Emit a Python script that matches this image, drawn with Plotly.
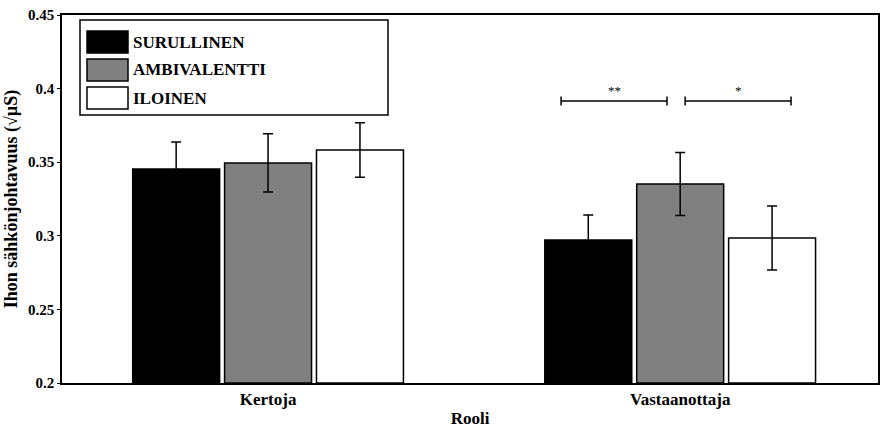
import plotly.graph_objects as go

groups = ["Kertoja", "Vastaanottaja"]
series = ["SURULLINEN", "AMBIVALENTTI", "ILOINEN"]
colors = ["#000000", "#808080", "#ffffff"]
values = [
    [0.3454, 0.2971],
    [0.3495, 0.3352],
    [0.3583, 0.2985],
]
errors = [
    [0.0183, 0.0170],
    [0.0198, 0.0214],
    [0.0185, 0.0217],
]
# significance brackets: (x0, x1, y, label) in data units
brackets = [
    (1.711, 1.968, 0.3916, "**"),
    (2.012, 2.269, 0.3916, "*"),
]
yticks = [0.2, 0.25, 0.3, 0.35, 0.4, 0.45]

offsets = [-0.223, 0.0, 0.223]
bar_w = 0.211
font = "Liberation Serif"

fig = go.Figure()
for i, name in enumerate(series):
    fig.add_trace(go.Bar(
        x=[g + 1 + offsets[i] for g in range(len(groups))],
        y=[v - 0.2 for v in values[i]],
        base=0.2,
        width=bar_w,
        name=name,
        marker=dict(color=colors[i], line=dict(color="#000000", width=1.5)),
        error_y=dict(type="data", array=errors[i], color="#000000", thickness=1.5, width=5),
        showlegend=False,
    ))

shapes = []
annotations = []
for x0, x1, y, lab in brackets:
    shapes.append(dict(type="line", xref="x", yref="y", x0=x0, x1=x1, y0=y, y1=y,
                       line=dict(color="#000000", width=1.5)))
    for xx in (x0, x1):
        shapes.append(dict(type="line", xref="x", yref="y", x0=xx, x1=xx,
                           y0=y - 0.003, y1=y + 0.003, line=dict(color="#000000", width=1.5)))
    annotations.append(dict(x=(x0 + x1) / 2, y=y, xref="x", yref="y", text=lab,
                            showarrow=False, yanchor="bottom", yshift=1,
                            font=dict(family=font, size=13, color="#000000")))

# manual legend (pixel geometry converted to paper coords)
L, T, W, H = 62, 15, 816, 368
def px(x): return (x - L) / W
def py(y): return 1 - (y - T) / H
shapes.append(dict(type="rect", xref="paper", yref="paper", x0=px(80), x1=px(388),
                   y0=py(115), y1=py(20), line=dict(color="#000000", width=1.5),
                   fillcolor="#ffffff"))
rows = [(31, 53), (59, 81), (87, 109)]
for i, name in enumerate(series):
    t, b = rows[i]
    shapes.append(dict(type="rect", xref="paper", yref="paper", x0=px(87), x1=px(128),
                       y0=py(b), y1=py(t), line=dict(color="#000000", width=1.5),
                       fillcolor=colors[i]))
    annotations.append(dict(x=px(131), y=py((t + b) / 2), xref="paper", yref="paper",
                            text="<b>%s</b>" % name, showarrow=False, xanchor="left",
                            yanchor="middle", font=dict(family=font, size=17, color="#000000")))

fig.update_layout(
    width=880, height=430,
    margin=dict(l=62, r=2, t=15, b=47),
    paper_bgcolor="#ffffff", plot_bgcolor="#ffffff",
    barmode="overlay",
    shapes=shapes, annotations=annotations,
    font=dict(family=font, color="#000000"),
    xaxis=dict(range=[0.5, 2.48], tickvals=[1, 2], ticktext=["<b>%s</b>" % g for g in groups],
               showline=True, linecolor="#000000", linewidth=1.5, mirror=True,
               showgrid=False, zeroline=False, ticks="", automargin=False,
               tickfont=dict(family=font, size=17, color="#000000"),
               title=dict(text="<b>Rooli</b>", font=dict(family=font, size=17, color="#000000"),
                          standoff=4)),
    yaxis=dict(range=[0.2, 0.45], tickvals=yticks,
               ticktext=["<b>%g</b>" % v for v in yticks],
               showline=True, linecolor="#000000", linewidth=1.5, mirror=True,
               showgrid=False, zeroline=False, ticks="outside", ticklen=3,
               tickcolor="#000000", automargin=False,
               tickfont=dict(family=font, size=15, color="#000000"),
               title=dict(text="<b>Ihon sähkönjohtavuus (√µS)</b>",
                          font=dict(family=font, size=18, color="#000000"), standoff=6)),
)

fig.write_html("out.html", config={"displayModeBar": False},
               post_script="document.body.style.margin='0';document.body.style.overflow='hidden';")
